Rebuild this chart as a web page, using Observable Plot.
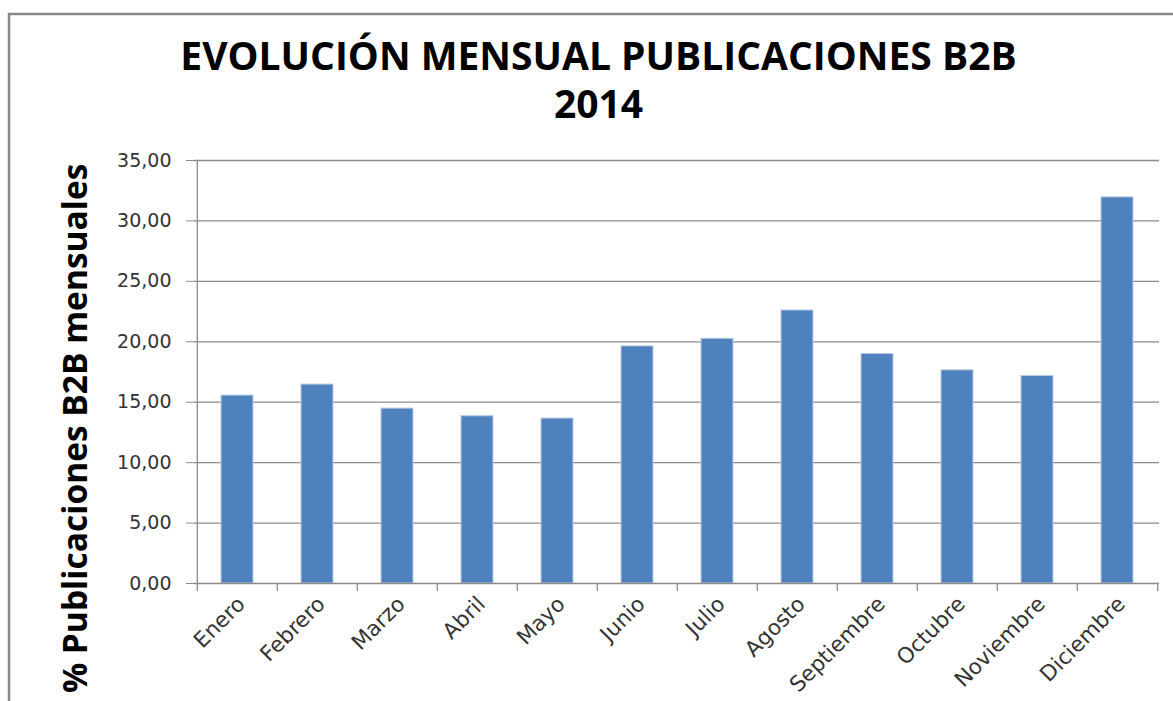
<!DOCTYPE html>
<html>
<head>
<meta charset="utf-8">
<script src="https://cdn.jsdelivr.net/npm/d3@7"></script>
<script src="https://cdn.jsdelivr.net/npm/@observablehq/plot@0.6"></script>
<style>
  html, body { margin: 0; padding: 0; background: #fff; }
  #chart { position: relative; width: 1173px; height: 701px; overflow: hidden; }
  #chart svg { display: block; }
</style>
</head>
<body>
<div id="chart"></div>
<script>
// ---- data ----
const months = ["Enero", "Febrero", "Marzo", "Abril", "Mayo", "Junio", "Julio", "Agosto", "Septiembre", "Octubre", "Noviembre", "Diciembre"];
const values = [15.55, 16.46, 14.47, 13.84, 13.65, 19.62, 20.25, 22.59, 18.99, 17.64, 17.17, 31.95];
const yTicks = [0, 5, 10, 15, 20, 25, 30, 35];
const titleLines = ["EVOLUCIÓN MENSUAL PUBLICACIONES B2B", "2014"];
const yLabel = "% Publicaciones B2B mensuales";

const data = months.map((m, i) => ({month: m, value: values[i]}));

// ---- layout ----
const W = 1173, H = 701;
const ML = 194, MR = 14, MT = 160, MB = 118;
const step = (W - ML - MR) / months.length;
const grid = "#8c8c8c";
const fmt = d => d.toFixed(2).replace(".", ",");
const headFont = "'Open Sans', sans-serif";
const tickFont = "'DejaVu Sans', Verdana, sans-serif";

const chart = Plot.plot({
  width: W,
  height: H,
  marginLeft: ML,
  marginRight: MR,
  marginTop: MT,
  marginBottom: MB,
  style: {background: "#fff"},
  x: {type: "band", domain: months, paddingInner: 0.6, paddingOuter: 0.3, axis: null},
  y: {domain: [0, 35], axis: null},
  marks: [
    // horizontal gridlines
    Plot.gridY(yTicks.filter(d => d > 0), {stroke: grid, strokeOpacity: 1, strokeWidth: 1.3}),
    // y axis with comma decimals
    Plot.axisY(yTicks, {
      label: null, tickSize: 8, tickPadding: 15, tickFormat: fmt, stroke: grid,
      fontSize: 19, fill: "#333", fontFamily: tickFont, letterSpacing: 2.2
    }),
    // y axis line (left edge of plot area, extends down as a tick)
    Plot.ruleX([months[0]], {x: d => d, dx: -step / 2, insetBottom: -8, stroke: grid, strokeWidth: 1.3}),
    // category boundary ticks
    Plot.ruleX(months.slice(1), {x: d => d, dx: -step / 2, insetTop: H - MT - MB, insetBottom: -8, stroke: grid, strokeWidth: 1.3}),
    Plot.ruleX([months[months.length - 1]], {x: d => d, dx: step / 2, insetTop: H - MT - MB, insetBottom: -8, stroke: grid, strokeWidth: 1.3}),
    // bars
    Plot.barY(data, {x: "month", y: "value", fill: "#4f81bd", stroke: "#b8cce4", strokeWidth: 1}),
    // baseline
    Plot.ruleY([0], {stroke: grid, strokeWidth: 1.3}),
    // x labels rotated
    Plot.text(months, {
      x: d => d, frameAnchor: "bottom", lineAnchor: "middle", rotate: -45, textAnchor: "end",
      dx: 4, dy: 17, fontSize: 21.5, fill: "#333", fontFamily: tickFont
    }),
    // title
    Plot.text([titleLines[0]], {
      frameAnchor: "top-left", lineAnchor: "middle", dx: 598 - ML, dy: 57 - MT, text: d => d,
      textAnchor: "middle", fontSize: 39, fontWeight: "bold", fill: "#000",
      fontFamily: headFont, letterSpacing: 2
    }),
    Plot.text([titleLines[1]], {
      frameAnchor: "top-left", lineAnchor: "middle", dx: 598 - ML, dy: 105 - MT, text: d => d,
      textAnchor: "middle", fontSize: 39, fontWeight: "bold", fill: "#000",
      fontFamily: headFont, letterSpacing: 2
    }),
    // y label (rotated)
    Plot.text([yLabel], {
      frameAnchor: "top-left", lineAnchor: "middle", dx: 76 - ML, dy: 163 - MT, text: d => d,
      rotate: -90, textAnchor: "end", fontSize: 33.5, fontWeight: "bold", fill: "#000",
      fontFamily: headFont
    })
  ]
});

document.getElementById("chart").appendChild(chart);

// outer chart-area border (left and top edges visible in the crop)
const svg = d3.select(chart);
svg.append("path")
  .attr("d", `M9,${H} V14 H${W}`)
  .attr("fill", "none")
  .attr("stroke", "#888")
  .attr("stroke-width", 2.5);
</script>
</body>
</html>
